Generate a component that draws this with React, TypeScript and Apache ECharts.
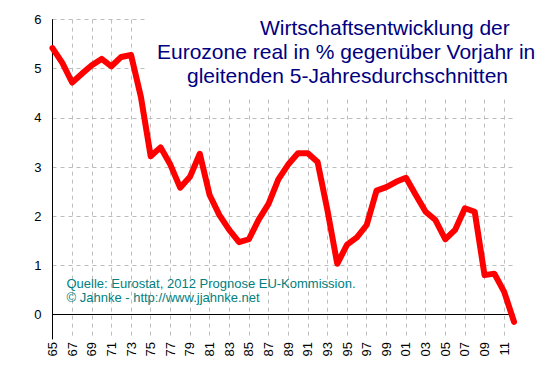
import React, { useEffect, useRef } from "react";
import * as echarts from "echarts";

const years: string[] = [];
for (let y = 1965; y <= 2012; y++) years.push(String(y));

const growth = [
  5.42, 5.12, 4.72, 4.9, 5.07, 5.2, 5.05, 5.24, 5.28, 4.43,
  3.22, 3.4, 3.05, 2.58, 2.8, 3.27, 2.43, 2.02, 1.72, 1.47,
  1.53, 1.93, 2.25, 2.75, 3.05, 3.28, 3.28, 3.1, 2.12, 1.03,
  1.42, 1.57, 1.82, 2.52, 2.59, 2.7, 2.78, 2.43, 2.09, 1.92,
  1.53, 1.72, 2.16, 2.09, 0.8, 0.83, 0.46, -0.15,
];

const titleLines = [
  "Wirtschaftsentwicklung der",
  "Eurozone real in % gegenüber Vorjahr in",
  "gleitenden 5-Jahresdurchschnitten",
];
const sourceLines = [
  "Quelle: Eurostat, 2012 Prognose EU-Kommission.",
  "© Jahnke - http://www.jjahnke.net",
];

export default function App() {
  const ref = useRef<HTMLDivElement>(null);
  useEffect(() => {
    if (!ref.current) return;
    const chart = echarts.init(ref.current, null, { renderer: "svg" });
    const font = "Liberation Sans, Arial, sans-serif";
    chart.setOption({
      animation: false,
      backgroundColor: "#ffffff",
      grid: { left: 52.5, right: 39, top: 19.6, bottom: 37, containLabel: false },
      xAxis: {
        type: "category",
        data: years,
        boundaryGap: false,
        axisLine: { show: true, lineStyle: { color: "#000", width: 1 } },
        axisTick: { show: false },
        axisLabel: {
          interval: 1,
          rotate: 90,
          margin: 3,
          color: "#000",
          fontSize: 13,
          fontFamily: font,
          formatter: (v: string) => v.slice(2),
        },
        splitLine: {
          show: true,
          interval: 1,
          lineStyle: { color: "#bdbdbd", type: [4, 4], width: 1 },
        },
      },
      yAxis: {
        type: "value",
        min: -0.5,
        max: 6,
        interval: 0.5,
        axisLine: { show: true, lineStyle: { color: "#000", width: 1 } },
        axisTick: { show: false },
        axisLabel: {
          color: "#000",
          fontSize: 13,
          fontFamily: font,
          margin: 11,
          formatter: (v: number) => (Math.abs(v - Math.round(v)) < 1e-6 ? String(Math.round(v)) : ""),
        },
        splitLine: {
          show: true,
          lineStyle: { color: ["transparent", "#bdbdbd"], type: [4, 4], width: 1 },
        },
      },
      series: [
        {
          type: "line",
          data: growth,
          symbol: "none",
          lineStyle: { color: "#ff0000", width: 6, cap: "round", join: "round" },
          z: 3,
          markLine: {
            silent: true,
            symbol: "none",
            label: { show: false },
            lineStyle: { color: "#000", width: 1, type: "solid" },
            data: [{ yAxis: 0 }],
            z: 2,
          },
        },
      ],
      graphic: [
        {
          type: "rect",
          z: 1,
          shape: { x: 148, y: 0, width: 405, height: 97 },
          style: { fill: "#ffffff" },
        },
        ...titleLines.map((t, i) => ({
          type: "text",
          z: 5,
          x: [260, 157, 187][i],
          y: 27.7 + i * 24,
          style: {
            text: t,
            fill: "#000080",
            font: `21px ${font}`,
            textAlign: "left",
            textVerticalAlign: "middle",
          },
        })),
        ...sourceLines.map((t, i) => ({
          type: "text",
          z: 5,
          x: 66.5,
          y: 283.2 + i * 14,
          style: {
            text: t,
            fill: "#008080",
            font: `13px ${font}`,
            textAlign: "left",
            textVerticalAlign: "middle",
          },
        })),
      ],
    });
    return () => chart.dispose();
  }, []);
  return (
    <div
      ref={ref}
      style={{ position: "absolute", left: 0, top: 0, width: 553, height: 376 }}
    />
  );
}
